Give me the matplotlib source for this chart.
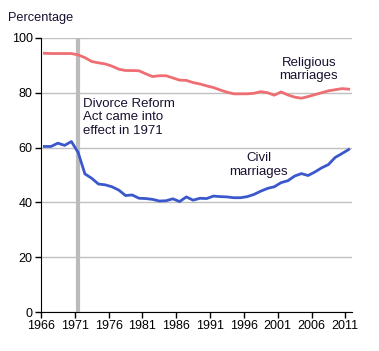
import matplotlib.pyplot as plt
import numpy as np

plt.rcParams['font.family'] = ['Liberation Sans', 'DejaVu Sans']

years = list(range(1966, 2012))
religious = [94.4, 94.3, 94.3, 94.3, 94.3, 93.8, 92.8, 91.4, 90.9, 90.5,
             89.7, 88.6, 88.1, 88.1, 88.0, 86.9, 85.9, 86.2, 86.2, 85.4,
             84.6, 84.5, 83.7, 83.2, 82.5, 81.9, 81.0, 80.2, 79.6, 79.6,
             79.6, 79.8, 80.4, 80.0, 79.1, 80.3, 79.2, 78.4, 78.0, 78.6,
             79.3, 80.0, 80.7, 81.1, 81.5, 81.3]
civil = [60.4, 60.4, 61.6, 60.8, 62.2, 58.2, 50.4, 48.8, 46.7, 46.4,
         45.7, 44.5, 42.5, 42.7, 41.5, 41.4, 41.1, 40.5, 40.6, 41.3,
         40.3, 42.0, 40.8, 41.5, 41.4, 42.3, 42.1, 42.0, 41.7, 41.7,
         42.1, 42.9, 44.1, 45.1, 45.7, 47.2, 47.9, 49.6, 50.5, 49.8,
         51.1, 52.6, 53.8, 56.4, 57.8, 59.3]
xticks = list(range(1966, 2012, 5))
yticks = [0, 20, 40, 60, 80, 100]
reform_year = 1971

fig = plt.figure(figsize=(3.79, 3.51), dpi=100)
ax = fig.add_axes([0.108, 0.111, 0.821, 0.781])

x = np.array(years) + 0.5
ax.axvline(reform_year + 0.5, color='#bbbbbb', lw=3, zorder=1)
ax.plot(x, religious, color='#ee6e73', lw=2, zorder=3)
ax.plot(x, civil, color='#3a58cc', lw=2, zorder=3)

ax.set_xlim(1966, 2012)
ax.set_ylim(0, 100)
ax.set_xticks(xticks)
ax.set_yticks(yticks)
ax.yaxis.grid(True, color='#c0c0c0', lw=1)
ax.set_axisbelow(True)
for s in ['top', 'right']:
    ax.spines[s].set_visible(False)
ax.tick_params(labelsize=9, length=4, width=1, colors='black', pad=2)

txt = dict(fontsize=9.5, color='#1a1030', linespacing=1.2)
ax.text(1972.2, 78.2, 'Divorce Reform\nAct came into\neffect in 1971', ha='left', va='top', **txt)
ax.text(2005.6, 88.5, 'Religious\nmarriages', ha='center', va='center', **txt)
ax.text(1998.2, 53.5, 'Civil\nmarriages', ha='center', va='center', **txt)
fig.text(0.021, 0.948, 'Percentage', fontsize=9.2, color='#1a1030', va='center')

fig.savefig('out.png', dpi=100)
